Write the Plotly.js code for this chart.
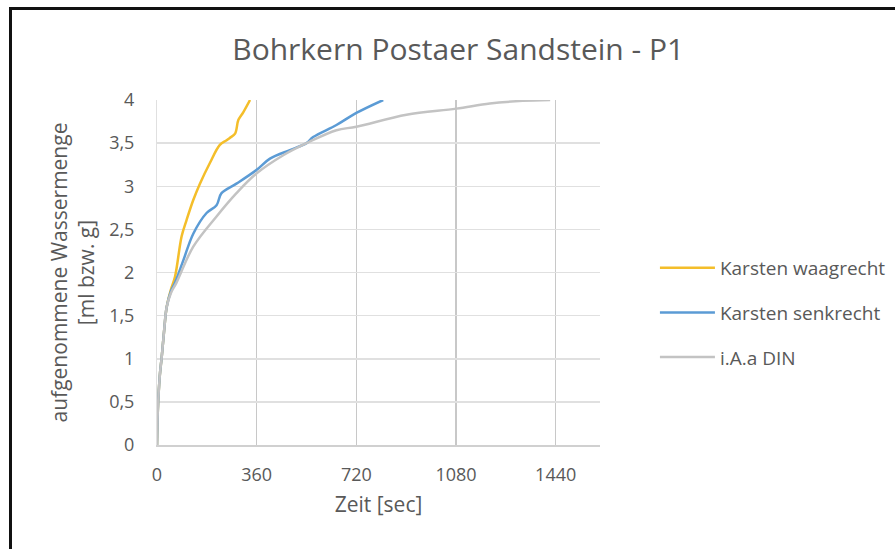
<!DOCTYPE html>
<html>
<head>
<meta charset="utf-8">
<script src="https://cdn.plot.ly/plotly-3.0.1.min.js"></script>
<style>
  html, body { margin: 0; padding: 0; background: #fff; }
  #chart { position: absolute; left: 0; top: 0; width: 895px; height: 549px; }
  #frame { position: absolute; left: 9px; top: 7px; width: 900px; height: 560px;
           border-top: 3px solid #111; border-left: 3px solid #111; pointer-events: none; }
</style>
</head>
<body>
<div id="chart"></div>
<div id="frame"></div>
<script>
// Karsten waagrecht (horizontal)
const waagrechtT = [0, 3, 10, 17, 25, 35, 50, 65, 89, 107, 131, 155, 191, 227, 250, 263, 282, 294, 312, 336];
const waagrechtV = [0, 0.4, 0.8, 1.02, 1.3, 1.6, 1.8, 1.95, 2.42, 2.61, 2.84, 3.03, 3.27, 3.48, 3.53, 3.56, 3.61, 3.77, 3.86, 4.0];

// Karsten senkrecht (vertical)
const senkrechtT = [0, 3, 10, 17, 25, 35, 50, 65, 95, 131, 179, 215, 233, 287, 360, 408, 480, 540, 564, 648, 720, 817];
const senkrechtV = [0, 0.4, 0.8, 1.02, 1.3, 1.6, 1.78, 1.88, 2.14, 2.45, 2.69, 2.78, 2.92, 3.03, 3.19, 3.32, 3.42, 3.50, 3.57, 3.71, 3.85, 4.0];

// i.A.a DIN
const dinT = [0, 3, 10, 17, 25, 35, 50, 70, 131, 215, 287, 360, 456, 540, 648, 720, 901, 1081, 1202, 1321, 1420];
const dinV = [0, 0.4, 0.8, 1.02, 1.3, 1.6, 1.76, 1.88, 2.30, 2.65, 2.92, 3.15, 3.36, 3.50, 3.65, 3.69, 3.83, 3.90, 3.96, 3.99, 4.0];

const xTicks = [0, 360, 720, 1080, 1440];
const yTicks = [0, 0.5, 1, 1.5, 2, 2.5, 3, 3.5, 4];

const txt = '#595959';
const fontFam = '"Open Sans", sans-serif';

const traces = [
  { x: waagrechtT, y: waagrechtV, name: 'Karsten waagrecht', mode: 'lines', legendgroup: 'a',
    line: { color: '#F4BE2A', width: 2.5, shape: 'spline', smoothing: 1 } },
  { x: senkrechtT, y: senkrechtV, name: 'Karsten senkrecht', mode: 'lines', legendgroup: 'b',
    line: { color: '#5B9BD5', width: 2.5, shape: 'spline', smoothing: 1 } },
  { x: dinT, y: dinV, name: 'i.A.a DIN', mode: 'lines', legendgroup: 'c',
    line: { color: '#C3C3C3', width: 2.5, shape: 'spline', smoothing: 1 } }
];

const layout = {
  width: 895, height: 549,
  margin: { l: 157, r: 295, t: 100, b: 104, autoexpand: false },
  paper_bgcolor: '#fff', plot_bgcolor: '#fff',
  separators: ',.',
  font: { family: fontFam, color: txt, size: 15 },
  title: { text: 'Bohrkern Postaer Sandstein - P1', x: 0.512, xanchor: 'center', y: 0.91, yanchor: 'middle',
           font: { size: 30, color: txt, family: fontFam } },
  xaxis: {
    range: [0, 1600], tickvals: xTicks, ticktext: xTicks.map(String),
    showgrid: true, gridcolor: '#C8C8C8', gridwidth: 1.5,
    zeroline: false, showline: true, linecolor: '#D0D0D0', linewidth: 1.5,
    ticks: 'outside', ticklen: 13, tickcolor: 'rgba(0,0,0,0)',
    tickfont: { size: 18, color: txt, family: fontFam },
    title: { text: 'Zeit [sec]', font: { size: 21, color: txt, family: fontFam }, standoff: 12 }
  },
  yaxis: {
    range: [0, 4], tickvals: yTicks,
    showgrid: true, gridcolor: '#E0E0E0', gridwidth: 1.5,
    zeroline: false, showline: true, linecolor: '#E0E0E0', linewidth: 1,
    ticks: 'outside', ticklen: 18, tickcolor: 'rgba(0,0,0,0)',
    tickfont: { size: 18, color: txt, family: fontFam },
    title: { text: 'aufgenommene Wassermenge<br>[ml bzw. g]', font: { size: 21, color: txt, family: fontFam }, standoff: 8 }
  },
  legend: {
    x: 1.124, xanchor: 'left', y: 0.383, yanchor: 'middle',
    font: { size: 19, color: txt, family: fontFam }, traceorder: 'grouped', tracegroupgap: 17, itemwidth: 55,
    bgcolor: 'rgba(0,0,0,0)'
  },
  showlegend: true
};

Plotly.newPlot('chart', traces, layout, { displayModeBar: false, staticPlot: true });
</script>
</body>
</html>
